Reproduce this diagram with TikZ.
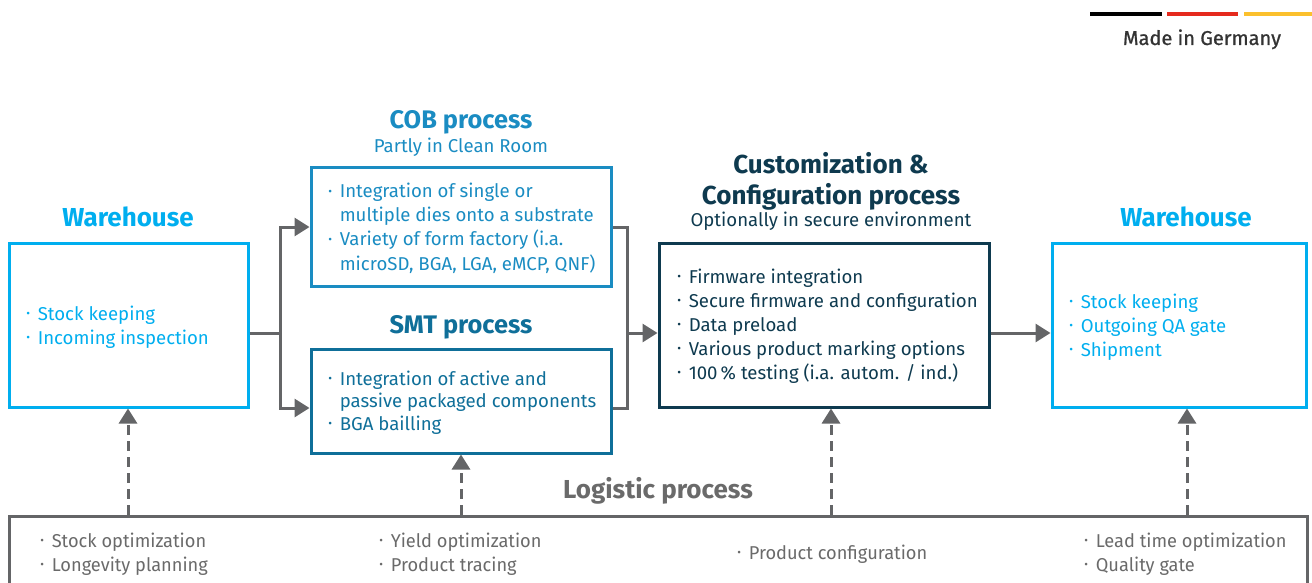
\documentclass[tikz,border=0pt]{standalone}
\usepackage{fontspec}
\setmainfont{Fira Sans}
\newfontfamily\condfont[FakeStretch=0.98]{Fira Sans}
\newfontfamily\migfont[FakeBold=0.9]{Fira Sans}
\usetikzlibrary{arrows.meta}
\definecolor{whblue}{HTML}{00AEEF}
\definecolor{cobblue}{HTML}{1A8CC2}
\definecolor{smtblue}{HTML}{0F6F99}
\definecolor{navy}{HTML}{0E3A4F}
\definecolor{lgray}{HTML}{646567}
\definecolor{txgray}{HTML}{6A6A6A}
\definecolor{dgray}{HTML}{333333}
\definecolor{flagred}{HTML}{E52A1E}
\definecolor{flagyel}{HTML}{FBC02D}
\newcommand{\bl}{\makebox[5.7pt][l]{\raisebox{0.28ex}{\scalebox{0.62}{\textbullet}}}}
\begin{document}
\begin{tikzpicture}[x=0.5pt,y=-0.5pt,
  box/.style={draw, line width=1.5pt, inner sep=0pt},
  ttl/.style={font=\fontsize{13}{15}\selectfont\bfseries, anchor=base, inner sep=0pt},
  subttl/.style={font=\fontsize{9.3}{11}\selectfont, anchor=base, inner sep=0pt},
  body/.style={font=\fontsize{9.3}{12}\selectfont, anchor=base west, inner sep=0pt},
  bodyn/.style={font=\fontsize{9.3}{11.25}\selectfont, anchor=base west, inner sep=0pt},
  lbody/.style={font=\condfont\fontsize{9.3}{12.2}\selectfont, anchor=base west, inner sep=0pt, text=txgray},
  conn/.style={draw=lgray, line width=1.5pt},
  arr/.style={conn, -{Triangle[length=7.5pt,width=9pt]}},
  darr/.style={conn, dash pattern=on 5pt off 3pt, -{Triangle[length=7.5pt,width=9pt]}},
  flag/.style={line width=2pt}
]
\useasboundingbox (0,0) rectangle (1312,583);

% Made in Germany
\coordinate (f0) at (1090,14);
\coordinate (f1) at (1162,14);
\coordinate (f2) at (1167,14);
\coordinate (f3) at (1238,14);
\coordinate (f4) at (1244,14);
\coordinate (f5) at (1312,14);
\draw[flag, black] (f0) -- (f1);
\draw[flag, flagred] (f2) -- (f3);
\draw[flag, flagyel] (f4) -- (f5);
\node[anchor=base, inner sep=0pt, text=dgray, font=\migfont\fontsize{10}{12}\selectfont] (mig) at (1202,45) {Made in Germany};

% Boxes
\node[box, draw=whblue, minimum width=119.5pt, minimum height=82pt] (whL) at (128.5,325) {};
\node[box, draw=cobblue, minimum width=150pt, minimum height=59pt] (cob) at (461,227) {};
\node[box, draw=smtblue, minimum width=150pt, minimum height=52pt] (smt) at (461,401) {};
\node[box, draw=navy, minimum width=165pt, minimum height=82pt] (cust) at (824,325) {};
\node[box, draw=whblue, minimum width=127pt, minimum height=82pt] (whR) at (1179,325) {};
\node[box, draw=lgray, minimum width=649pt, minimum height=60pt] (log) at (658,576) {};

% Titles
\node[ttl, text=whblue] (whLtitle) at (128,227) {Warehouse};
\node[ttl, text=cobblue, font=\fontsize{12.7}{15}\selectfont\bfseries] (cobtitle) at (461,128) {COB process};
\node[subttl, text=cobblue] (cobsub) at (461,153) {Partly in Clean Room};
\node[ttl, text=smtblue, font=\fontsize{12.7}{15}\selectfont\bfseries] (smttitle) at (461,333) {SMT process};
\node[ttl, text=navy] (custtitle1) at (831,173) {Customization \&};
\node[ttl, text=navy] (custtitle2) at (831,205) {Configuration process};
\node[subttl, text=navy] (custsub) at (831,227) {Optionally in secure environment};
\node[ttl, text=whblue] (whRtitle) at (1186,227) {Warehouse};
\node[ttl, text=txgray] (logtitle) at (658,498) {Logistic process};

% Box texts
\node[body, text=whblue] (whLtext) at (26,320) {\begin{tabular}[t]{@{}l@{}l@{}}\bl&Stock keeping\\\bl&Incoming inspection\end{tabular}};
\node[body, text=cobblue] (cobtext) at (328,198) {\begin{tabular}[t]{@{}l@{}l@{}}\bl&Integration of single or\\&multiple dies onto a substrate\\\bl&Variety of form factory (i.a.\\&microSD, BGA, LGA, eMCP, QNF)\end{tabular}};
\node[bodyn, text=smtblue] (smttext) at (328,385) {\begin{tabular}[t]{@{}l@{}l@{}}\bl&Integration of active and\\&passive packaged components\\\bl&BGA bailling\end{tabular}};
\node[body, text=navy] (custtext) at (677,283) {\begin{tabular}[t]{@{}l@{}l@{}}\bl&Firmware integration\\\bl&Secure firmware and configuration\\\bl&Data preload\\\bl&Various product marking options\\\bl&100\,\% testing (i.a. autom. / ind.)\end{tabular}};
\node[body, text=whblue] (whRtext) at (1069,308) {\begin{tabular}[t]{@{}l@{}l@{}}\bl&Stock keeping\\\bl&Outgoing QA gate\\\bl&Shipment\end{tabular}};

% Logistic texts
\node[lbody] (lt1) at (40,547) {\begin{tabular}[t]{@{}l@{}l@{}}\bl&Stock optimization\\\bl&Longevity planning\end{tabular}};
\node[lbody] (lt2) at (379,547) {\begin{tabular}[t]{@{}l@{}l@{}}\bl&Yield optimization\\\bl&Product tracing\end{tabular}};
\node[lbody] (lt3) at (737,559) {\begin{tabular}[t]{@{}l@{}l@{}}\bl&Product configuration\end{tabular}};
\node[lbody] (lt4) at (1084,547) {\begin{tabular}[t]{@{}l@{}l@{}}\bl&Lead time optimization\\\bl&Quality gate\end{tabular}};

% Connectors
\coordinate (jL) at (280,333);
\coordinate (jR) at (627,333);
\coordinate (yS) at (0,408);
\draw[conn] (jL -| whL.east) -- (jL);
\draw[arr] (jL) |- (cob.west);
\draw[arr] (jL) |- (smt.west |- yS);
\draw[conn] (cob.east) -| (jR);
\draw[conn] (smt.east |- yS) -| (jR);
\draw[arr] (jR) -- (cust.west |- jR);
\draw[arr] (cust.east |- jR) -- (whR.west |- jR);

% Dashed up arrows
\coordinate (d1) at (128,0);
\coordinate (d2) at (461,0);
\coordinate (d3) at (831,0);
\coordinate (d4) at (1187,0);
\draw[darr] (log.north -| d1) -- (whL.south -| d1);
\draw[darr] (log.north -| d2) -- (smt.south -| d2);
\draw[darr] (log.north -| d3) -- (cust.south -| d3);
\draw[darr] (log.north -| d4) -- (whR.south -| d4);
\end{tikzpicture}
\end{document}
